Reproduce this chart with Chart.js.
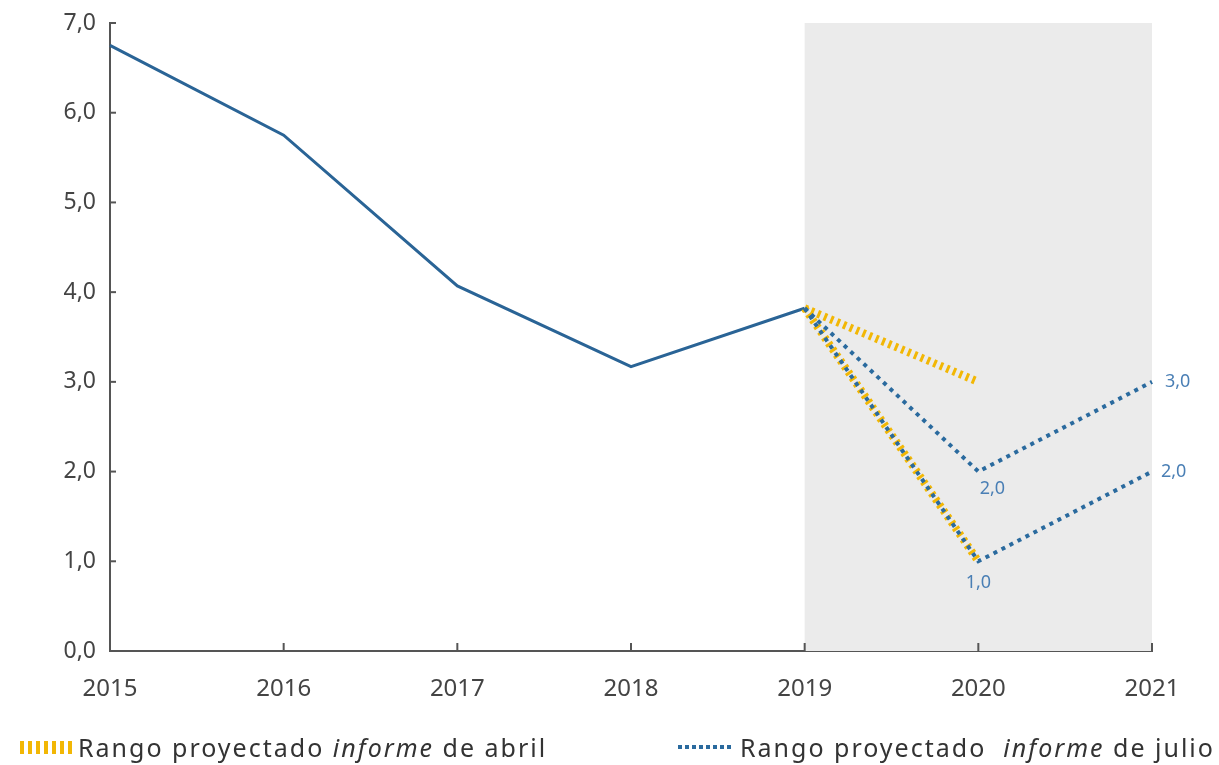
<!DOCTYPE html>
<html>
<head>
<meta charset="utf-8">
<script src="https://cdn.jsdelivr.net/npm/chart.js@4"></script>
<style>
  html, body { margin: 0; padding: 0; background: #fff; }
  #wrap { position: relative; width: 1219px; height: 765px; }
  #grafico { display: block; }
  .leyenda { position: absolute; top: 730px; font-family: "Noto Sans", sans-serif; font-size: 25px; letter-spacing: 2px; color: #333; white-space: nowrap; display: flex; align-items: center; line-height: 34px; }
  .marca { display: inline-block; margin-right: 6px; }
  .marca.abril { width: 52px; height: 13px; background: repeating-linear-gradient(90deg, #f2b705 0 4px, transparent 4px 8px); }
  .marca.julio { width: 56px; height: 4px; background: repeating-linear-gradient(90deg, #2a6a9e 0 4px, transparent 4px 7px); }
</style>
</head>
<body>
<div id="wrap">
  <canvas id="grafico" width="1219" height="765"></canvas>
  <div class="leyenda" style="left:20px"><span class="marca abril"></span>Rango proyectado&nbsp;<i>informe</i>&nbsp;de abril</div>
  <div class="leyenda" style="left:678px"><span class="marca julio"></span>Rango proyectado&nbsp;&nbsp;<i>informe</i>&nbsp;de julio</div>
</div>
<script>
// datos
const anios = ['2015', '2016', '2017', '2018', '2019', '2020', '2021'];
const efectivo = [6.75, 5.75, 4.07, 3.17, 3.82, null, null];
const abrilAlto = [null, null, null, null, 3.82, 3.0, null];
const abrilBajo = [null, null, null, null, 3.82, 1.0, null];
const julioAlto = [null, null, null, null, 3.82, 2.0, 3.0];
const julioBajo = [null, null, null, null, 3.82, 1.0, 2.0];
const ticksY = [0, 1, 2, 3, 4, 5, 6, 7];
const inicioProyeccion = '2019';
const finProyeccion = '2021';

const azul = '#2a6496';
const azulPunto = '#2a6a9e';
const amarillo = '#f2b705';
const fmt = v => v.toFixed(1).replace('.', ',');

// sombreado gris de la zona proyectada
const sombra = {
  id: 'sombra',
  beforeDatasetsDraw(chart) {
    const { ctx, scales: { x, y } } = chart;
    const x0 = x.getPixelForValue(anios.indexOf(inicioProyeccion));
    const x1 = x.getPixelForValue(anios.indexOf(finProyeccion));
    const y0 = y.getPixelForValue(7);
    const y1 = y.getPixelForValue(0);
    ctx.save();
    ctx.fillStyle = '#ebebeb';
    ctx.fillRect(x0, y0, x1 - x0, y1 - y0);
    ctx.restore();
  }
};

// marcas de eje hacia adentro
const marcas = {
  id: 'marcas',
  afterDatasetsDraw(chart) {
    const { ctx, scales: { x, y } } = chart;
    ctx.save();
    ctx.strokeStyle = '#555';
    ctx.lineWidth = 2;
    const yb = y.getPixelForValue(0);
    anios.forEach((a, i) => {
      const px = x.getPixelForValue(i);
      ctx.beginPath(); ctx.moveTo(px, yb); ctx.lineTo(px, yb - 8); ctx.stroke();
    });
    const xl = x.getPixelForValue(0);
    ticksY.forEach(v => {
      const py = y.getPixelForValue(v);
      ctx.beginPath(); ctx.moveTo(xl, py); ctx.lineTo(xl + 6, py); ctx.stroke();
    });
    ctx.restore();
  }
};

// etiquetas de valores del informe de julio
const etiquetas = {
  id: 'etiquetas',
  afterDatasetsDraw(chart) {
    const { ctx } = chart;
    ctx.save();
    ctx.font = '18px "Noto Sans", sans-serif';
    ctx.fillStyle = '#4a7fb5';
    [2, 3].forEach(di => {
      const meta = chart.getDatasetMeta(di);
      const datos = chart.data.datasets[di].data;
      [5, 6].forEach(i => {
        const p = meta.data[i];
        if (datos[i] == null) return;
        if (i === 5) {
          ctx.textAlign = 'center'; ctx.textBaseline = 'top';
          ctx.fillText(fmt(datos[i]), p.x + (di === 2 ? 14 : 0), p.y + (di === 2 ? 8 : 13));
        } else {
          ctx.textAlign = 'left'; ctx.textBaseline = 'middle';
          ctx.fillText(fmt(datos[i]), p.x + (di === 2 ? 13 : 9), p.y);
        }
      });
    });
    ctx.restore();
  }
};

const linea = (data, color, ancho, guion, orden) => ({
  data: data,
  borderColor: color,
  borderWidth: ancho,
  borderDash: guion,
  pointRadius: 0,
  fill: false,
  tension: 0,
  spanGaps: false,
  order: orden
});

new Chart(document.getElementById('grafico'), {
  type: 'line',
  data: {
    labels: anios,
    datasets: [
      linea(efectivo, azul, 3, [], 3),
      linea(abrilAlto, amarillo, 8, [3, 4], 2),
      linea(julioAlto, azulPunto, 4, [4, 5], 1),
      linea(julioBajo, azulPunto, 4, [4, 5], 1),
      linea(abrilBajo, amarillo, 8, [3, 4], 2)
    ]
  },
  options: {
    responsive: false,
    animation: false,
    layout: { padding: { top: 23, right: 67, bottom: 54, left: 0 } },
    plugins: { legend: { display: false }, tooltip: { enabled: false } },
    scales: {
      x: {
        offset: false,
        grid: { display: false, drawTicks: false },
        border: { display: true, color: '#555', width: 2 },
        ticks: { color: '#444', font: { family: 'Noto Sans', size: 24 }, padding: 24, maxRotation: 0 },
        afterFit(s) { s.height = 60; }
      },
      y: {
        min: 0, max: 7,
        grid: { display: false, drawTicks: false },
        border: { display: true, color: '#555', width: 2 },
        afterBuildTicks(s) { s.ticks = ticksY.map(v => ({ value: v })); },
        ticks: { color: '#444', font: { family: 'Noto Sans', size: 23 }, padding: 14, callback: v => fmt(v) },
        afterFit(s) { s.width = 110; s.paddingTop = 0; s.paddingBottom = 0; }
      }
    }
  },
  plugins: [sombra, marcas, etiquetas]
});
</script>
</body>
</html>
